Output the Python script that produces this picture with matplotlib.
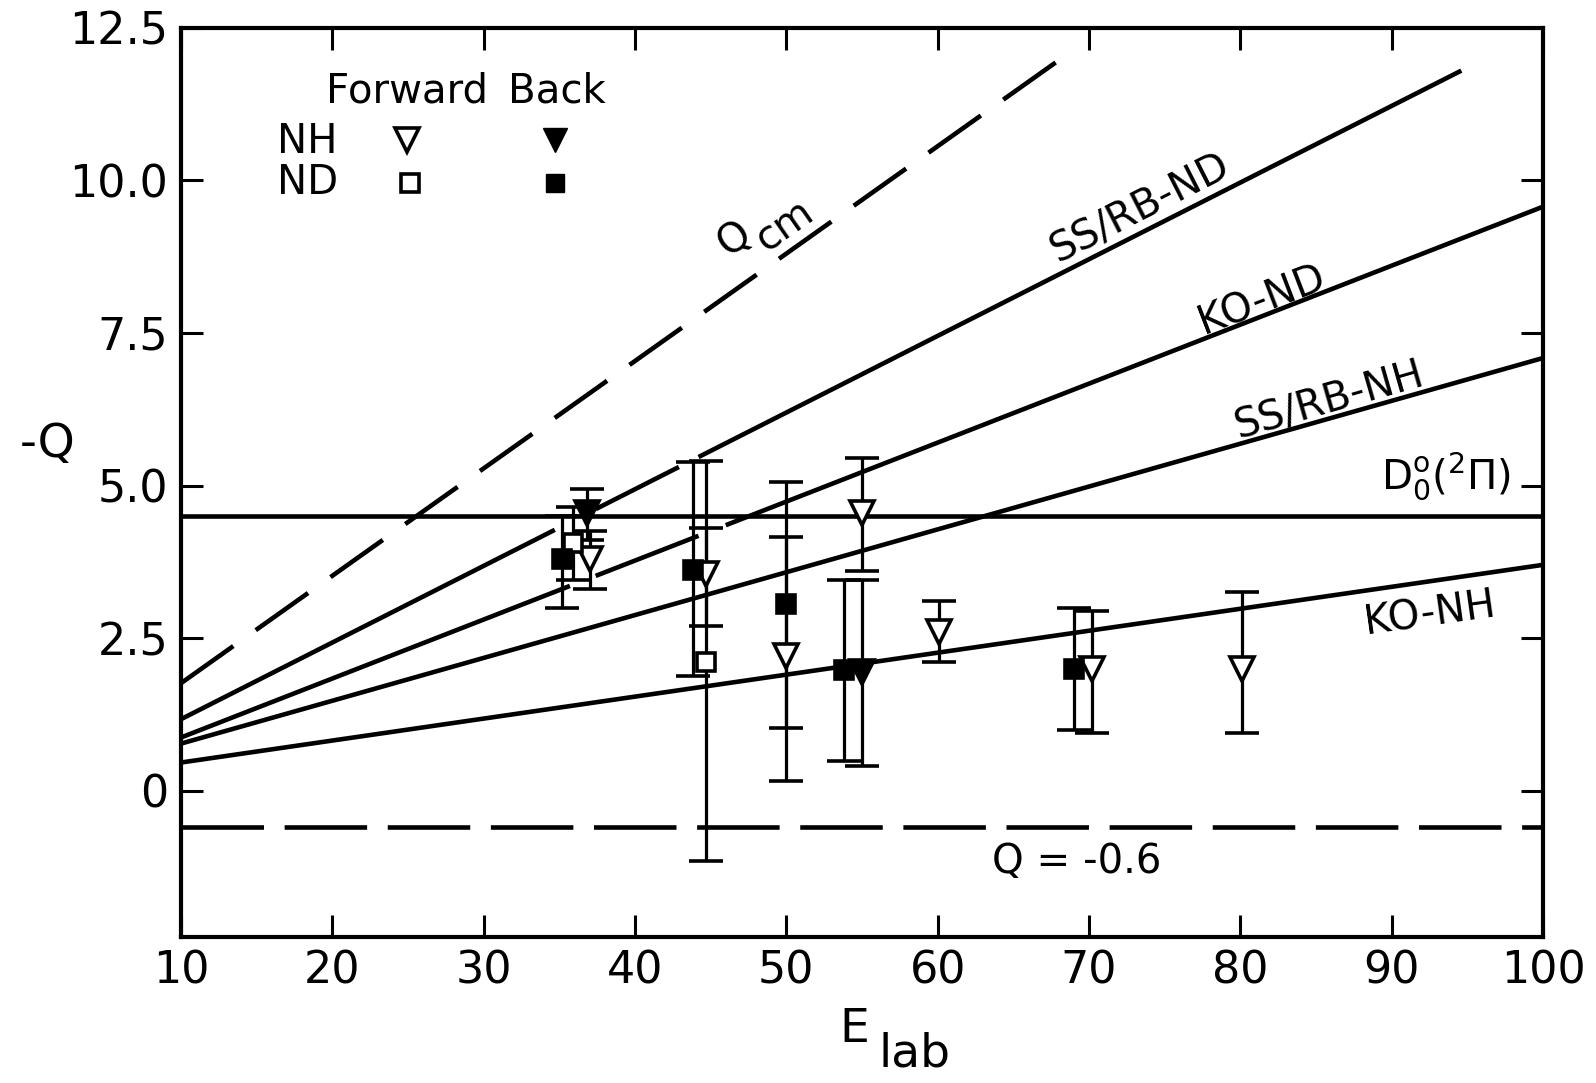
import matplotlib
matplotlib.use('Agg')
import matplotlib.pyplot as plt

# straight lines, each given by its two end points (E_lab, -Q)
qcm_x = [10, 68]
qcm_y = [1.76, 11.97]
ssrb_nd_x = [10, 94.6]
ssrb_nd_y = [1.17, 11.8]
ko_nd_x = [10, 100]
ko_nd_y = [0.87, 9.57]
ssrb_nh_x = [10, 100]
ssrb_nh_y = [0.77, 7.09]
ko_nh_x = [10, 100]
ko_nh_y = [0.46, 3.70]
d0_y = 4.5
qmin_y = -0.6

# the drawn lines are broken where they run into the data points
ssrb_nd_gaps = [[34.7, 37.4], [42.9, 44.2]]
ko_nd_gaps = [[35.7, 37.4], [44.2, 46.0]]

# NH forward (open triangles)
nh_f_x = [37.0, 44.7, 50.0, 55.0, 60.1, 70.2, 80.1]
nh_f_y = [3.80, 3.55, 2.20, 4.55, 2.60, 2.00, 2.00]
nh_f_lo = [3.30, 2.70, 0.15, 3.60, 2.10, 0.95, 0.95]
nh_f_hi = [4.25, 4.30, 4.15, 5.45, 3.10, 2.95, 3.25]

# NH back (filled triangles)
nh_b_x = [36.8, 55.0]
nh_b_y = [4.55, 1.95]
nh_b_lo = [4.10, 0.40]
nh_b_hi = [4.95, 3.45]

# ND forward (open squares)
nd_f_x = [35.9, 44.7]
nd_f_y = [4.05, 2.10]
nd_f_lo = [3.45, -1.15]
nd_f_hi = [4.65, 5.40]

# ND back (filled squares)
nd_b_x = [35.2, 43.8, 50.0, 53.8, 69.0]
nd_b_y = [3.80, 3.62, 3.05, 1.97, 2.00]
nd_b_lo = [3.00, 1.87, 1.02, 0.48, 1.00]
nd_b_hi = [4.50, 5.38, 5.05, 3.45, 3.00]

x_ticks = [10, 20, 30, 40, 50, 60, 70, 80, 90, 100]
y_ticks = [0, 2.5, 5.0, 7.5, 10.0, 12.5]
y_tick_labels = ['0', '2.5', '5.0', '7.5', '10.0', '12.5']

LW = 3.3


def line_with_gaps(ax, xs, ys, gaps, **kw):
    x0, x1 = xs
    y0, y1 = ys

    def at(x):
        return y0 + (y1 - y0) * (x - x0) / (x1 - x0)

    cuts = [x0]
    for g in gaps:
        cuts += [g[0], g[1]]
    cuts += [x1]
    for i in range(0, len(cuts), 2):
        a, b = cuts[i], cuts[i + 1]
        ax.plot([a, b], [at(a), at(b)], color='black', lw=LW,
                solid_capstyle='butt', **kw)


def errs(y, lo, hi):
    return [[v - l for v, l in zip(y, lo)], [h - v for v, h in zip(y, hi)]]


fig = plt.figure(figsize=(15.96, 10.83), dpi=100)
ax = fig.add_axes([0.1134, 0.1348, 0.8534, 0.8394])

# lines
ax.plot(qcm_x, qcm_y, color='black', lw=LW, dashes=(14, 6))
line_with_gaps(ax, ssrb_nd_x, ssrb_nd_y, ssrb_nd_gaps)
line_with_gaps(ax, ko_nd_x, ko_nd_y, ko_nd_gaps)
line_with_gaps(ax, ssrb_nh_x, ssrb_nh_y, [])
line_with_gaps(ax, ko_nh_x, ko_nh_y, [])
ax.axhline(d0_y, color='black', lw=LW)
ax.axhline(qmin_y, color='black', lw=LW, dashes=(18, 4.5))

# data points
eb = dict(ecolor='black', elinewidth=2.3, capsize=12, capthick=2.3,
          mec='black', mew=2.6, zorder=5, ls='none')
ax.errorbar(nh_f_x, nh_f_y, yerr=errs(nh_f_y, nh_f_lo, nh_f_hi),
            marker='v', ms=17, mfc='white', **eb)
ax.errorbar(nh_b_x, nh_b_y, yerr=errs(nh_b_y, nh_b_lo, nh_b_hi),
            marker='v', ms=17, mfc='black', **eb)
ax.errorbar(nd_f_x, nd_f_y, yerr=errs(nd_f_y, nd_f_lo, nd_f_hi),
            marker='s', ms=13, mfc='white', **eb)
ax.errorbar(nd_b_x, nd_b_y, yerr=errs(nd_b_y, nd_b_lo, nd_b_hi),
            marker='s', ms=13, mfc='black', **eb)

# line labels
lab = dict(fontsize=29, ha='center', va='center', rotation_mode='anchor')
ax.text(46.6, 9.05, 'Q', rotation=35, **lab)
ax.text(49.9, 9.25, 'cm', rotation=35, **lab)
ax.text(73.4, 9.54, 'SS/RB-ND', rotation=27, **lab)
ax.text(81.4, 8.03, 'KO-ND', rotation=21, **lab)
ax.text(85.9, 6.38, 'SS/RB-NH', rotation=16, **lab)
ax.text(93.6, 5.15, r'$\mathregular{D_0^o(^2\Pi)}$', **lab)
ax.text(92.5, 2.88, 'KO-NH', rotation=8, **lab)
ax.text(69.2, -1.17, 'Q = -0.6', **lab)

# legend drawn by hand
ax.text(0.166, 0.930, 'Forward', transform=ax.transAxes, **lab)
ax.text(0.276, 0.930, 'Back', transform=ax.transAxes, **lab)
ax.text(0.093, 0.874, 'NH', transform=ax.transAxes, **lab)
ax.text(0.093, 0.829, 'ND', transform=ax.transAxes, **lab)
ax.plot([0.166], [0.877], 'v', ms=17, mfc='white', mec='black', mew=2.6,
        transform=ax.transAxes)
ax.plot([0.2746], [0.877], 'v', ms=17, mfc='black', mec='black',
        transform=ax.transAxes)
ax.plot([0.168], [0.829], 's', ms=13, mfc='white', mec='black', mew=2.6,
        transform=ax.transAxes)
ax.plot([0.2746], [0.829], 's', ms=13, mfc='black', mec='black',
        transform=ax.transAxes)

ax.set_xlim(10, 100)
ax.set_ylim(-2.4, 12.5)
ax.set_xticks(x_ticks)
ax.set_yticks(y_ticks)
ax.set_yticklabels(y_tick_labels)
ax.tick_params(direction='in', length=16, width=2.2, labelsize=32,
               top=True, right=True, pad=9)
for s in ax.spines.values():
    s.set_linewidth(3)

fig.text(0.030, 0.590, '-Q', fontsize=34, ha='center', va='center')
fig.text(854 / 1596, 1 - 1030 / 1083, 'E', fontsize=34, ha='center', va='center')
fig.text(915 / 1596, 1 - 1054 / 1083, 'lab', fontsize=34, ha='center', va='center')

fig.savefig('out.png', dpi=100)
